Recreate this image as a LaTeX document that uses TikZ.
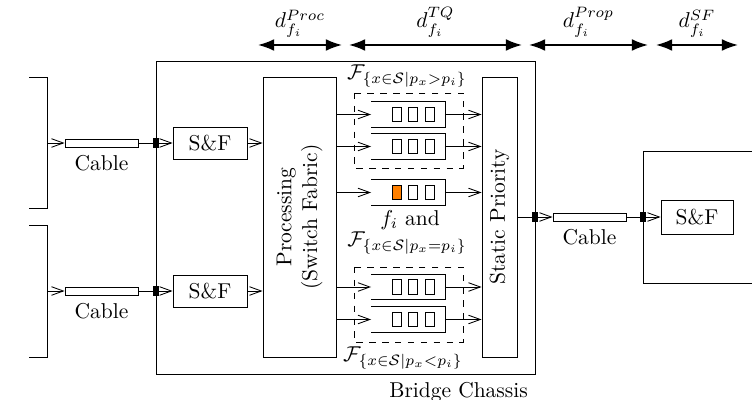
\documentclass[tikz,border=0pt]{standalone}
\usetikzlibrary{arrows.meta,positioning}

\tikzset{
  box/.style={draw, inner sep=0pt},
  cablebox/.style={draw, inner sep=0pt, minimum width=34pt, minimum height=3.7pt},
  port/.style={fill, inner sep=0pt, minimum width=2.6pt, minimum height=4.4pt},
  queue/.style={inner sep=0pt, minimum width=34pt, minimum height=11.6pt},
  cell/.style={draw, inner sep=0pt, minimum width=4.2pt, minimum height=6.6pt},
  flow/.style={-{Straight Barb[length=5.5pt,width=4pt]}},
  delay/.style={line width=0.8pt, {Latex[length=7.5pt,width=5.5pt]}-{Latex[length=7.5pt,width=5.5pt]}},
}

\begin{document}
\begin{tikzpicture}[x=0.4654pt, y=-0.4654pt]
\useasboundingbox (0,0) rectangle (752,400);

% delays
\coordinate (d0) at (258,45);
\coordinate (d1) at (342,45);
\coordinate (d2) at (349,45);
\coordinate (d3) at (522,45);
\coordinate (d4) at (529,45);
\coordinate (d5) at (648,45);
\coordinate (d6) at (656,45);
\coordinate (d7) at (738,45);
\draw[delay] (d0) -- (d1) node[midway, above] (dproc) {$d_{f_i}^{Proc}$};
\draw[delay] (d2) -- (d3) node[midway, above] (dtq) {$d_{f_i}^{TQ}$};
\draw[delay] (d4) -- (d5) node[midway, above] (dprop) {$d_{f_i}^{Prop}$};
\draw[delay] (d6) -- (d7) node[midway, above] (dsf) {$d_{f_i}^{SF}$};

% senders
\draw (29,77) -- (47,77) -- (47,208) -- (29,208);
\draw (29,225) -- (47,225) -- (47,357) -- (29,357);
\coordinate (in1) at (47,143);
\coordinate (in2) at (47,291);

% bridge
\node[box, minimum width=176.4pt, minimum height=145.7pt] (chassis) at (345.5,217.5) {};
\node[below left=0pt of chassis.south east] (chassislbl) {Bridge Chassis};

\node[cablebox] (cab1) at (101.5,143) {};
\node[below=0pt of cab1] (cab1lbl) {Cable};
\node[cablebox] (cab2) at (101.5,291) {};
\node[below=0pt of cab2] (cab2lbl) {Cable};
\node[port] (port1) at (156,143) {};
\node[port] (port2) at (156,291) {};
\node[box, minimum width=34.4pt, minimum height=14.9pt] (sf1) at (210,143) {S\&F};
\node[box, minimum width=34.4pt, minimum height=14.9pt] (sf2) at (210,291) {S\&F};

\node[box, minimum width=34pt, minimum height=130.3pt] (proc) at (299.5,217) {};
\node[rotate=90, align=center] (proclbl) at (proc) {Processing\\(Switch Fabric)};
\node[box, minimum width=16.3pt, minimum height=130.3pt] (sp) at (499.5,217) {};
\node[rotate=90] (splbl) at (sp) {Static Priority};

\draw[flow] (in1) -- (cab1);
\draw (cab1) -- (port1);
\draw[flow] (port1) -- (sf1);
\draw[flow] (sf1) -- (sf1 -| proc.west);
\draw[flow] (in2) -- (cab2);
\draw (cab2) -- (port2);
\draw[flow] (port2) -- (sf2);
\draw[flow] (sf2) -- (sf2 -| proc.west);

% queues
\draw[dashed] (354,93) rectangle (463,168);
\draw[dashed] (354,267) rectangle (463,342);
\node (fgt) at (407,76) {$\mathcal{F}_{\{x\in\mathcal{S}|p_x>p_i\}}$};
\node (fand) at (410,220) {$f_i$ and};
\node (feq) at (407,243) {$\mathcal{F}_{\{x\in\mathcal{S}|p_x=p_i\}}$};
\node (flt) at (403,358) {$\mathcal{F}_{\{x\in\mathcal{S}|p_x<p_i\}}$};

\node[queue] (q1) at (408,114.5) {};
\node[queue] (q2) at (408,146.5) {};
\node[queue] (q3) at (408,192.5) {};
\node[queue] (q4) at (408,287) {};
\node[queue] (q5) at (408,319.5) {};
\draw (q1.north west) -- (q1.north east) -- (q1.south east) -- (q1.south west);
\draw (q2.north west) -- (q2.north east) -- (q2.south east) -- (q2.south west);
\draw (q3.north west) -- (q3.north east) -- (q3.south east) -- (q3.south west);
\draw (q4.north west) -- (q4.north east) -- (q4.south east) -- (q4.south west);
\draw (q5.north west) -- (q5.north east) -- (q5.south east) -- (q5.south west);
\node[cell] (q1a) at (396.5,114.5) {};
\node[cell] (q1b) at (412.5,114.5) {};
\node[cell] (q1c) at (430,114.5) {};
\node[cell] (q2a) at (396.5,146.5) {};
\node[cell] (q2b) at (412.5,146.5) {};
\node[cell] (q2c) at (430,146.5) {};
\node[cell, fill=orange] (q3a) at (396.5,192.5) {};
\node[cell] (q3b) at (412.5,192.5) {};
\node[cell] (q3c) at (430,192.5) {};
\node[cell] (q4a) at (396.5,287) {};
\node[cell] (q4b) at (412.5,287) {};
\node[cell] (q4c) at (430,287) {};
\node[cell] (q5a) at (396.5,319.5) {};
\node[cell] (q5b) at (412.5,319.5) {};
\node[cell] (q5c) at (430,319.5) {};

\draw[flow] (q1 -| proc.east) -- (q1.west);
\draw[flow] (q2 -| proc.east) -- (q2.west);
\draw[flow] (q3 -| proc.east) -- (q3.west);
\draw[flow] (q4 -| proc.east) -- (q4.west);
\draw[flow] (q5 -| proc.east) -- (q5.west);
\draw[flow] (q1.east) -- (q1 -| sp.west);
\draw[flow] (q2.east) -- (q2 -| sp.west);
\draw[flow] (q3.east) -- (q3 -| sp.west);
\draw[flow] (q4.east) -- (q4 -| sp.west);
\draw[flow] (q5.east) -- (q5 -| sp.west);

% next hop
\node[port] (port3) at (535,217) {};
\node[cablebox] (cab3) at (589.5,217) {};
\node[below=0pt of cab3] (cab3lbl) {Cable};
\node[port] (port4) at (643,217) {};
\draw (752,151) -- (643,151) -- (643,283) -- (752,283);
\node[box, minimum width=33.5pt, minimum height=15.8pt] (sf3) at (697,217) {S\&F};
\draw (sp) -- (port3);
\draw[flow] (port3) -- (cab3);
\draw (cab3) -- (port4);
\draw[flow] (port4) -- (sf3);
\end{tikzpicture}
\end{document}
